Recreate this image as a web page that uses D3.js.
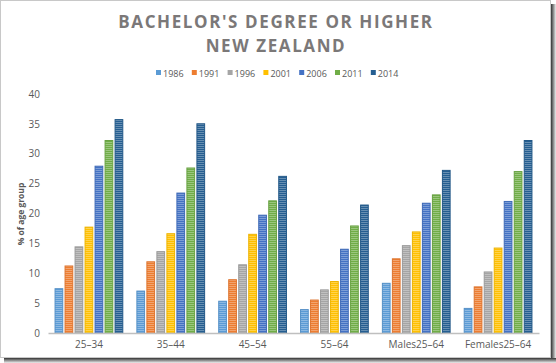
<!DOCTYPE html>
<meta charset="utf-8">
<style>
  body { margin: 0; background: #fff; }
  text { font-family: "Open Sans", "Liberation Sans", sans-serif; }
</style>
<div id="my_dataviz"></div>
<script src="https://d3js.org/d3.v7.min.js"></script>
<script>

// data
var groups = ["25–34", "35–44", "45–54", "55–64", "Males25–64", "Females25–64"];
var years = ["1986", "1991", "1996", "2001", "2006", "2011", "2014"];
var colors = ["#5B9BD5", "#ED7D31", "#A5A5A5", "#FFC000", "#4472C4", "#70AD47", "#255E91"];
var v1986 = [7.5, 7.1, 5.4, 4.0, 8.4, 4.2];
var v1991 = [11.3, 12.0, 9.0, 5.6, 12.5, 7.8];
var v1996 = [14.5, 13.7, 11.5, 7.3, 14.7, 10.3];
var v2001 = [17.8, 16.7, 16.6, 8.7, 17.0, 14.3];
var v2006 = [28.0, 23.5, 19.8, 14.1, 21.8, 22.1];
var v2011 = [32.3, 27.7, 22.2, 18.0, 23.2, 27.1];
var v2014 = [35.8, 35.1, 26.3, 21.5, 27.3, 32.3];
var series = [v1986, v1991, v1996, v2001, v2006, v2011, v2014];
var yTicks = [0, 5, 10, 15, 20, 25, 30, 35, 40];

var W = 556, H = 363;
var margin = {top: 94, right: 17, bottom: 30, left: 48};

var svg = d3.select("#my_dataviz")
  .append("svg")
    .attr("width", W)
    .attr("height", H);

// screenshot frame with shadow
var defs = svg.append("defs");
var gr = defs.append("linearGradient").attr("id", "shR");
gr.append("stop").attr("offset", "0%").attr("stop-color", "#333");
gr.append("stop").attr("offset", "100%").attr("stop-color", "#eee");
var gb = defs.append("linearGradient").attr("id", "shB")
  .attr("x1", 0).attr("y1", 0).attr("x2", 0).attr("y2", 1);
gb.append("stop").attr("offset", "0%").attr("stop-color", "#333");
gb.append("stop").attr("offset", "100%").attr("stop-color", "#eee");
svg.append("rect").attr("x", 551).attr("y", 4).attr("width", 5).attr("height", 354).attr("fill", "url(#shR)");
svg.append("rect").attr("x", 4).attr("y", 358).attr("width", 552).attr("height", 5).attr("fill", "url(#shB)");
svg.append("rect").attr("x", 0.5).attr("y", 0.5).attr("width", 550).attr("height", 357)
  .attr("fill", "#fff").attr("stroke", "#c8c8c8");

// striped fills like the Excel texture
colors.forEach(function(c, i) {
  var p = defs.append("pattern").attr("id", "pat" + i)
    .attr("patternUnits", "userSpaceOnUse").attr("width", 4).attr("height", 2);
  p.append("rect").attr("width", 4).attr("height", 2).attr("fill", c);
  p.append("rect").attr("width", 4).attr("height", 1).attr("fill", "#fff").attr("opacity", 0.3);
});

var x0 = d3.scaleBand()
  .domain(groups)
  .range([margin.left, W - margin.right])
  .paddingInner(0.16)
  .paddingOuter(0.08);
var x1 = d3.scaleBand()
  .domain(years)
  .range([0, x0.bandwidth()])
  .paddingInner(0.13);
var y = d3.scaleLinear()
  .domain([0, 40])
  .range([333, 94]);

// title
var title = svg.append("text")
  .attr("x", 276)
  .attr("text-anchor", "middle")
  .style("font-size", "17px")
  .style("font-weight", "bold")
  .style("letter-spacing", "1.6px")
  .style("fill", "#7b7878");
title.append("tspan").attr("x", 276).attr("y", 28).text("BACHELOR'S DEGREE OR HIGHER");
title.append("tspan").attr("x", 276).attr("y", 52).text("NEW ZEALAND");

// legend
var legend = svg.append("g").attr("transform", "translate(156,73)");
years.forEach(function(yr, i) {
  var g = legend.append("g").attr("transform", "translate(" + (i * 35.8) + ",0)");
  g.append("rect").attr("x", 0).attr("y", -3).attr("width", 5).attr("height", 5).attr("fill", colors[i]);
  g.append("text").attr("x", 7).attr("y", 3.5)
    .style("font-size", "9px").style("fill", "#595959").text(yr);
});

// y axis labels
svg.append("g")
  .attr("transform", "translate(" + 40 + ",0)")
  .call(d3.axisLeft(y).tickValues(yTicks).tickSize(0).tickPadding(0))
  .call(function(g) { g.select(".domain").remove(); })
  .selectAll("text")
    .style("font-size", "10px")
    .style("fill", "#595959")
    .style("font-family", "'Open Sans', 'Liberation Sans', sans-serif");

svg.append("text")
  .attr("transform", "translate(24,214) rotate(-90)")
  .attr("text-anchor", "middle")
  .style("font-size", "8.5px")
  .style("font-weight", "bold")
  .style("fill", "#595959")
  .text("% of age group");

// bars
var groupG = svg.selectAll(".grp")
  .data(groups)
  .enter().append("g")
    .attr("class", "grp")
    .attr("transform", function(d) { return "translate(" + x0(d) + ",0)"; });

groupG.selectAll("rect")
  .data(function(d, gi) { return years.map(function(yr, si) { return {yr: yr, si: si, v: series[si][gi]}; }); })
  .enter().append("rect")
    .attr("x", function(d) { return x1(d.yr) + 0.5; })
    .attr("y", function(d) { return y(d.v) + 0.5; })
    .attr("width", x1.bandwidth() - 1)
    .attr("height", function(d) { return y(0) - y(d.v) - 0.5; })
    .attr("fill", function(d) { return "url(#pat" + d.si + ")"; })
    .attr("stroke", function(d) { return d3.color(colors[d.si]).darker(0.2); })
    .attr("stroke-width", 1);

// x axis
svg.append("g")
  .attr("transform", "translate(0,333)")
  .call(d3.axisBottom(x0).tickSize(0).tickPadding(8))
  .call(function(g) { g.select(".domain").attr("stroke", "#bfbfbf").attr("stroke-width", 1.5); })
  .selectAll("text")
    .style("font-size", "10px")
    .style("fill", "#595959")
    .style("font-family", "'Open Sans', 'Liberation Sans', sans-serif");

</script>
